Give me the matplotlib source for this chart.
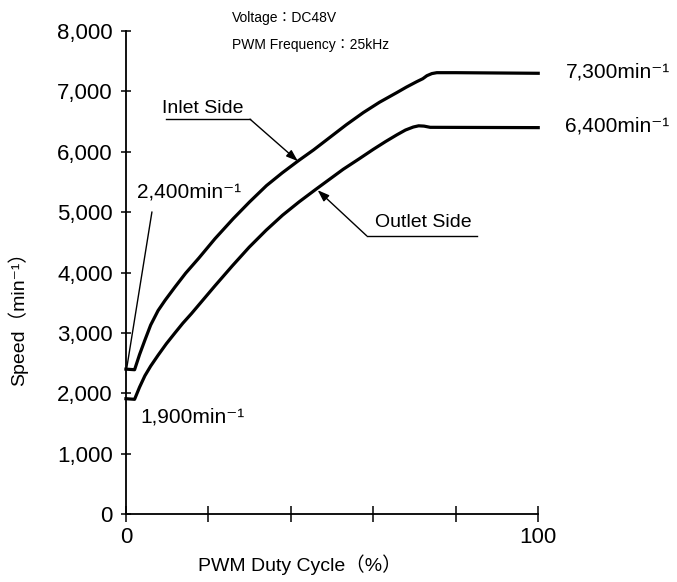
import matplotlib
matplotlib.use('Agg')
import matplotlib.pyplot as plt

# PWM duty cycle (%) vs speed (min-1)
inlet_x = [0, 2.1, 3.3, 4.6, 6.0, 7.8, 9.5, 11.9, 14.5, 17.7, 21.6, 26.0, 30.0, 34.1,
           37.9, 41.8, 45.5, 49.5, 53.5, 57.6, 61.5, 65.7, 68.0, 70.5, 72.0, 73.0, 74.2, 75.4, 80, 100]
inlet_y = [2400, 2390, 2640, 2880, 3130, 3370, 3540, 3760, 3990, 4240, 4560, 4890, 5170, 5440,
           5650, 5850, 6030, 6240, 6450, 6650, 6820, 6980, 7070, 7160, 7210, 7260, 7295, 7310, 7310, 7300]

outlet_x = [0, 2.1, 3.3, 4.6, 6.0, 7.8, 9.8, 11.9, 13.8, 15.9, 18.5, 21.6, 25.8, 29.9, 34.0,
            38.0, 42.0, 46.1, 49.5, 52.7, 56.5, 60.0, 63.0, 65.7, 67.8, 69.7, 71.0, 72.3, 73.8, 100]
outlet_y = [1910, 1900, 2100, 2290, 2450, 2630, 2820, 3000, 3160, 3320, 3530, 3780, 4110, 4420, 4700,
            4950, 5170, 5380, 5550, 5710, 5880, 6040, 6170, 6280, 6360, 6410, 6430, 6425, 6405, 6400]

y_ticks = [0, 1000, 2000, 3000, 4000, 5000, 6000, 7000, 8000]
y_labels = ['0', '1,000', '2,000', '3,000', '4,000', '5,000', '6,000', '7,000', '8,000']
x_ticks = [0, 20, 40, 60, 80, 100]
x_labels = ['0', '', '', '', '', '100']

fonts = ['Liberation Sans', 'Noto Sans CJK JP', 'DejaVu Sans']
plt.rcParams['font.family'] = fonts

fig = plt.figure(figsize=(6.77, 5.82), dpi=100)
ax = fig.add_axes([0.186, 0.1168, 0.609, 0.8299])

ax.plot(inlet_x, inlet_y, color='black', lw=2.3, solid_joinstyle='round', clip_on=False)
ax.plot(outlet_x, outlet_y, color='black', lw=2.3, solid_joinstyle='round', clip_on=False)

ax.set_xlim(0, 100)
ax.set_ylim(0, 8000)
ax.spines['top'].set_visible(False)
ax.spines['right'].set_visible(False)
ax.spines['left'].set_linewidth(1.3)
ax.spines['bottom'].set_linewidth(1.3)

ax.set_yticks(y_ticks)
ax.set_yticklabels(y_labels, fontsize=16)
ax.set_xticks(x_ticks)
ax.set_xticklabels(x_labels, fontsize=16)
ax.tick_params(axis='y', direction='inout', length=7, width=1.1, pad=6)
ax.tick_params(axis='x', direction='inout', length=11, width=1.1, pad=4)

# callouts
ax.plot([9.7, 30.1], [6540, 6540], color='black', lw=1)
ax.annotate('', xy=(41.7, 5845), xytext=(30.1, 6540),
            arrowprops=dict(arrowstyle='-|>,head_width=0.25,head_length=0.7', color='black', lw=1,
                            mutation_scale=10, shrinkA=0, shrinkB=0))
ax.text(8.7, 6640, 'Inlet Side', fontsize=14, ha='left', va='baseline')

ax.plot([58.4, 85.1], [4608, 4608], color='black', lw=1)
ax.annotate('', xy=(46.5, 5364), xytext=(58.4, 4608),
            arrowprops=dict(arrowstyle='-|>,head_width=0.25,head_length=0.7', color='black', lw=1,
                            mutation_scale=10, shrinkA=0, shrinkB=0))
ax.text(60.4, 4752, 'Outlet Side', fontsize=14, ha='left', va='baseline')

ax.plot([6.3, 0.2], [5000, 2417], color='black', lw=1)
ax.text(2.7, 5330, '2,400min⁻¹', fontsize=15, ha='left', va='center')
ax.text(3.4, 1600, '1,900min⁻¹', fontsize=15, ha='left', va='center')
ax.text(106.6, 7320, '7,300min⁻¹', fontsize=15, ha='left', va='center', clip_on=False)
ax.text(106.6, 6420, '6,400min⁻¹', fontsize=15, ha='left', va='center', clip_on=False)

fig.text(232 / 677, 1 - 18 / 582, 'Voltage：DC48V', fontsize=10, ha='left', va='center')
fig.text(232 / 677, 1 - 45 / 582, 'PWM Frequency：25kHz', fontsize=10, ha='left', va='center')

fig.text(300 / 677, 1 - 565 / 582, 'PWM Duty Cycle（%）', fontsize=14, ha='center', va='center')
fig.text(18 / 677, 1 - 314 / 582, 'Speed（min⁻¹）', fontsize=14, ha='center', va='center', rotation=90)

fig.savefig('out.png', dpi=100)
